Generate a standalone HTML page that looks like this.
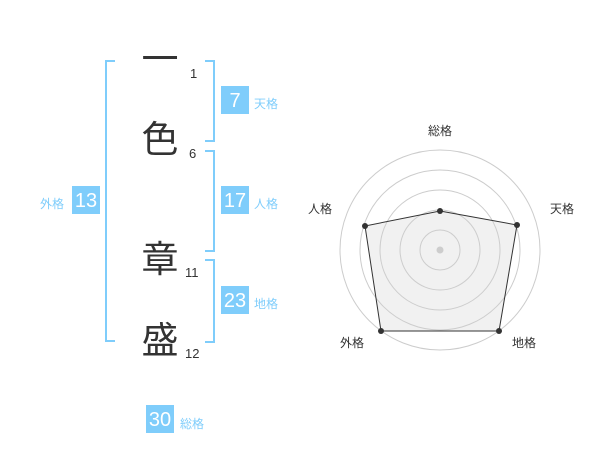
<!DOCTYPE html>
<html><head><meta charset="utf-8"><style>
body{margin:0;width:600px;height:470px;background:#fff;position:relative;overflow:hidden;font-family:"Liberation Sans","Noto Sans CJK JP",sans-serif}
.k{position:absolute;font-size:37px;color:#333;line-height:1;font-family:"Noto Sans CJK JP",sans-serif;width:40px;text-align:center}
.n{position:absolute;font-size:13px;color:#333}
.b{position:absolute;background:#7fcdfb;color:#fff;font-size:20px;width:28px;height:28px;line-height:30px;text-align:center}
.l{position:absolute;font-size:12px;color:#7fcdfb;font-family:"Noto Sans CJK JP",sans-serif}
.br{position:absolute;border:2px solid #7fcdfb}
</style></head><body>
<div class="br" style="left:105px;top:60px;width:8px;height:278px;border-right:none"></div>
<div class="br" style="left:205px;top:60px;width:8px;height:78px;border-left:none"></div>
<div class="br" style="left:205px;top:150px;width:8px;height:98px;border-left:none"></div>
<div class="br" style="left:205px;top:259px;width:8px;height:80px;border-left:none"></div>
<div class="k" style="left:140px;top:38px">一</div>
<div class="k" style="left:140px;top:118px">色</div>
<div class="k" style="left:140px;top:238px">章</div>
<div class="k" style="left:140px;top:319px">盛</div>
<div class="n" style="left:190px;top:66px">1</div>
<div class="n" style="left:189px;top:146px">6</div>
<div class="n" style="left:185px;top:265px">11</div>
<div class="n" style="left:185px;top:346px">12</div>
<div class="b" style="left:221px;top:86px">7</div><div class="l" style="left:254px;top:95px">天格</div>
<div class="b" style="left:221px;top:186px">17</div><div class="l" style="left:254px;top:195px">人格</div>
<div class="b" style="left:221px;top:286px">23</div><div class="l" style="left:254px;top:295px">地格</div>
<div class="b" style="left:72px;top:186px">13</div><div class="l" style="left:40px;top:195px">外格</div>
<div class="b" style="left:146px;top:405px">30</div><div class="l" style="left:180px;top:415px">総格</div>
<svg style="position:absolute;left:0;top:0" width="600" height="470">
<g fill="none" stroke="#ccc" stroke-width="1">
<circle cx="440" cy="250" r="20"/><circle cx="440" cy="250" r="40"/><circle cx="440" cy="250" r="60"/><circle cx="440" cy="250" r="80"/><circle cx="440" cy="250" r="100"/></g>
<circle cx="440" cy="250" r="3.5" fill="#ccc"/>
<polygon points="440,211 517,225 499,331 381,331 365,226" fill="rgba(210,210,210,0.3)" stroke="#333" stroke-width="1"/>
<g fill="#333"><circle cx="440" cy="211" r="3"/><circle cx="517" cy="225" r="3"/><circle cx="499" cy="331" r="3"/><circle cx="381" cy="331" r="3"/><circle cx="365" cy="226" r="3"/></g>
<g font-size="12" fill="#333" font-family="Noto Sans CJK JP,sans-serif" text-anchor="middle">
<text x="440" y="135">総格</text><text x="562" y="213">天格</text><text x="524" y="347">地格</text><text x="352" y="347">外格</text><text x="320" y="213">人格</text></g>
</svg>
</body></html>
